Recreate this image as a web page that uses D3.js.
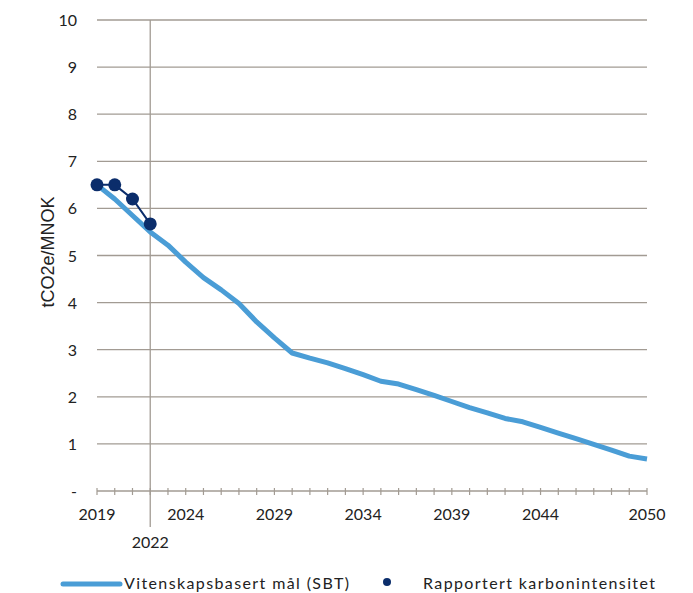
<!DOCTYPE html>
<html><head><meta charset="utf-8">
<script src="https://cdn.jsdelivr.net/npm/d3@7"></script>
<style>body{margin:0;background:#fff}svg text{font-family:Lato,"Open Sans",sans-serif;fill:#222}</style>
</head><body>
<svg id="c" width="693" height="593"></svg>
<script>
const years = d3.range(2019, 2051);
const sbtValues = [6.5,6.2,5.85,5.5,5.22,4.86,4.53,4.27,3.98,3.59,3.25,2.93,2.82,2.72,2.6,2.47,2.33,2.27,2.15,2.03,1.9,1.77,1.66,1.54,1.47,1.35,1.23,1.11,0.99,0.87,0.74,0.68];
const reportedYears = [2019,2020,2021,2022];
const reportedValues = [6.5,6.5,6.2,5.67];
const yTicks = [0,1,2,3,4,5,6,7,8,9,10];
const yTickLabels = ["-","1","2","3","4","5","6","7","8","9","10"];
const xLabelYears = [2019,2024,2029,2034,2039,2044,2050];
const markerYear = 2022;
const yTitle = "tCO2e/MNOK";
const legendLabels = ["Vitenskapsbasert mål (SBT)","Rapportert karbonintensitet"];

const svg = d3.select("#c");
const x = d3.scaleLinear().domain([2019,2050]).range([97,647]);
const y = d3.scaleLinear().domain([0,10]).range([491,20]);
const gridCol = "#a29b93";
const lineCol = "#4a9dd6";
const dotCol = "#0b2d6b";

// gridlines
svg.append("g").selectAll("line").data(yTicks.filter(d=>d>0)).join("line")
  .attr("x1",x(2019)).attr("x2",x(2050)).attr("y1",d=>y(d)).attr("y2",d=>y(d))
  .attr("stroke",gridCol).attr("stroke-width",1.3);
// y labels
svg.append("g").selectAll("text").data(yTicks).join("text")
  .attr("x",77).attr("y",d=>y(d)+6).attr("text-anchor","end").attr("font-size",16)
  .text((d,i)=>yTickLabels[i]);
// x axis line
svg.append("line").attr("x1",x(2019)).attr("x2",x(2050)).attr("y1",y(0)).attr("y2",y(0))
  .attr("stroke",gridCol).attr("stroke-width",1.3);
svg.append("g").selectAll("line").data(years).join("line")
  .attr("x1",d=>x(d)).attr("x2",d=>x(d)).attr("y1",y(0)-3).attr("y2",y(0)+4)
  .attr("stroke",gridCol).attr("stroke-width",1.2);
// 2022 vertical line
svg.append("line").attr("x1",x(markerYear)).attr("x2",x(markerYear)).attr("y1",y(10)).attr("y2",527)
  .attr("stroke",gridCol).attr("stroke-width",1.3);
// x labels
svg.append("g").selectAll("text").data(xLabelYears).join("text")
  .attr("x",d=>x(d)).attr("y",520).attr("text-anchor","middle").attr("font-size",16).text(d=>d);
svg.append("text").attr("x",x(markerYear)).attr("y",548).attr("text-anchor","middle").attr("font-size",16).text(markerYear);
// y title
svg.append("text").attr("transform","translate(54,252) rotate(-90)").attr("text-anchor","middle")
  .attr("font-size",18).style("font-family","'Liberation Sans',Arial,sans-serif").text(yTitle);

// SBT line
svg.append("path").datum(years.map((yr,i)=>[yr,sbtValues[i]]))
  .attr("fill","none").attr("stroke",lineCol).attr("stroke-width",5).attr("stroke-linejoin","round")
  .attr("d",d3.line().x(d=>x(d[0])).y(d=>y(d[1])));
// reported
const rep = reportedYears.map((yr,i)=>[yr,reportedValues[i]]);
svg.append("path").datum(rep).attr("fill","none").attr("stroke",dotCol).attr("stroke-width",2)
  .attr("d",d3.line().x(d=>x(d[0])).y(d=>y(d[1])));
svg.append("g").selectAll("circle").data(rep).join("circle")
  .attr("cx",d=>x(d[0])).attr("cy",d=>y(d[1])).attr("r",6.5).attr("fill",dotCol);

// legend
svg.append("line").attr("x1",63).attr("x2",120).attr("y1",584).attr("y2",584)
  .attr("stroke",lineCol).attr("stroke-width",5).attr("stroke-linecap","round");
svg.append("text").attr("x",124).attr("y",589).attr("font-size",16)
  .attr("textLength",225).attr("lengthAdjust","spacing").text(legendLabels[0]);
svg.append("circle").attr("cx",387).attr("cy",582).attr("r",4).attr("fill",dotCol);
svg.append("text").attr("x",423).attr("y",589).attr("font-size",16)
  .attr("textLength",232).attr("lengthAdjust","spacing").text(legendLabels[1]);
</script>
</body></html>
